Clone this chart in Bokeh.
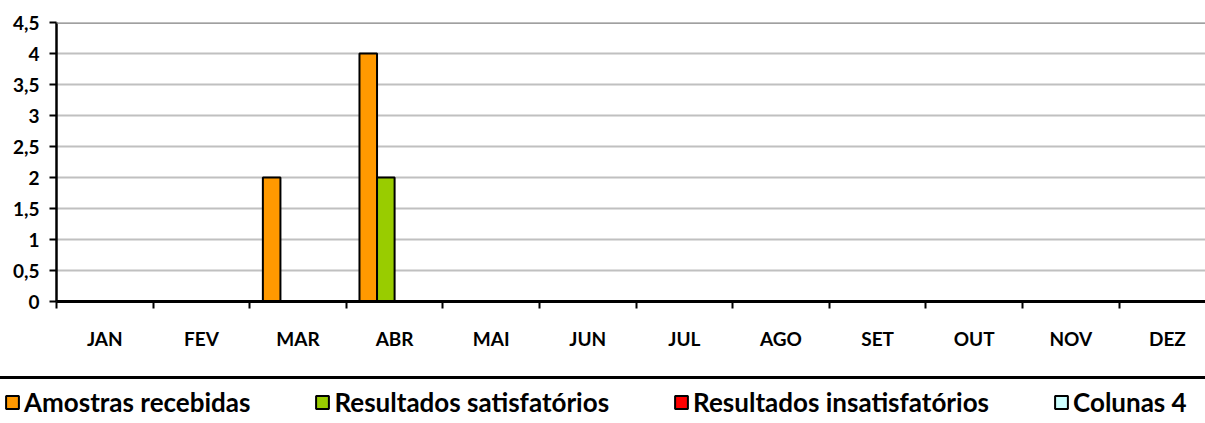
from bokeh.plotting import figure
from bokeh.models import (Range1d, LinearAxis, FixedTicker, Span, Legend, LegendItem,
                          ColumnDataSource, Grid, Div)
from bokeh.layouts import column, row
from bokeh.transform import dodge
from bokeh.core.properties import value
from bokeh.embed import file_html
from bokeh.resources import INLINE

# ---------------- data ----------------
months = ["JAN", "FEV", "MAR", "ABR", "MAI", "JUN", "JUL", "AGO", "SET", "OUT", "NOV", "DEZ"]
amostras_recebidas = [0, 0, 2, 4, 0, 0, 0, 0, 0, 0, 0, 0]
resultados_satisfatorios = [0, 0, 0, 2, 0, 0, 0, 0, 0, 0, 0, 0]
resultados_insatisfatorios = [0, 0, 0, 0, 0, 0, 0, 0, 0, 0, 0, 0]
colunas_4 = [0, 0, 0, 0, 0, 0, 0, 0, 0, 0, 0, 0]
series_names = ["Amostras recebidas", "Resultados satisfatórios",
                "Resultados insatisfatórios", "Colunas 4"]
y_ticks = [0, 0.5, 1, 1.5, 2, 2.5, 3, 3.5, 4, 4.5]
y_tick_labels = ["0", "0,5", "1", "1,5", "2", "2,5", "3", "3,5", "4", "4,5"]

# ---------------- style ----------------
colors = ["#FF9900", "#99CC00", "#FF0000", "#CCFFFF"]
FONT = "Lato"
W = 1205
H1 = 376
HLINE = 3
H2 = 44
LEFT = 56
TOP = 22
FRAME_H = 279
CAT_PX = 96.6
GAP = 1.5  # excel gap width 150%

source = ColumnDataSource(dict(
    x=[i + 0.5 for i in range(len(months))],
    s0=amostras_recebidas, s1=resultados_satisfatorios,
    s2=resultados_insatisfatorios, s3=colunas_4,
))

x_range = Range1d(0, (W - LEFT) / CAT_PX)
p = figure(width=W, height=H1, x_range=x_range, y_range=Range1d(0, 4.5),
           output_backend="svg", toolbar_location=None,
           x_axis_type=None, y_axis_type=None,
           min_border_left=LEFT, min_border_right=0, min_border_top=TOP,
           min_border_bottom=H1 - TOP - FRAME_H, outline_line_color=None)

ytick_src = FixedTicker(ticks=y_ticks)
p.add_layout(Grid(dimension=1, ticker=ytick_src, grid_line_color="#C0C0C0",
                  grid_line_width=2))
p.add_layout(Span(location=y_ticks[-1], dimension="width", line_color="#808080",
                  line_width=2.5))

bar_w = 1.0 / (len(series_names) + GAP)
for i in range(len(series_names)):
    off = (i - (len(series_names) - 1) / 2) * bar_w
    p.vbar(x=dodge("x", off), top="s%d" % i, width=bar_w, source=source,
           fill_color=colors[i], line_color="black", line_width=2)

yaxis = LinearAxis(ticker=ytick_src,
                   major_label_overrides={t: l for t, l in zip(y_ticks, y_tick_labels)},
                   axis_line_color="black", axis_line_width=2.5,
                   major_tick_line_color="black", major_tick_line_width=2,
                   major_tick_in=0, major_tick_out=7,
                   minor_tick_line_color=None,
                   major_label_standoff=10,
                   major_label_text_font=FONT, major_label_text_font_style="bold",
                   major_label_text_font_size="19px", major_label_text_color="black")
p.add_layout(yaxis, "left")

xaxis = LinearAxis(ticker=FixedTicker(ticks=[i + 0.5 for i in range(len(months))],
                                      minor_ticks=list(range(len(months) + 1))),
                   major_label_overrides={i + 0.5: m for i, m in enumerate(months)},
                   axis_line_color="black", axis_line_width=3,
                   major_tick_line_color=None, major_tick_in=0, major_tick_out=0,
                   minor_tick_line_color="black", minor_tick_line_width=2,
                   minor_tick_in=0, minor_tick_out=7,
                   major_label_standoff=18,
                   major_label_text_font=FONT, major_label_text_font_style="bold",
                   major_label_text_font_size="19px", major_label_text_color="black")
p.add_layout(xaxis, "below")

# ---------------- separator line ----------------
sep = Div(text="", width=W, height=HLINE, margin=0,
          styles={"background-color": "black"})

# ---------------- legend panel ----------------
p2 = figure(width=W, height=H2, x_range=Range1d(0, 1), y_range=Range1d(0, 1),
            output_backend="svg", toolbar_location=None,
            x_axis_type=None, y_axis_type=None, min_border=0,
            min_border_left=0, min_border_right=0, min_border_top=0, min_border_bottom=0,
            outline_line_color=None)
legend_src = ColumnDataSource(dict(x=[float("nan")], top=[float("nan")]))
leg_renderers = []
for i in range(len(series_names)):
    r = p2.vbar(x="x", top="top", width=bar_w, source=legend_src,
                fill_color=colors[i], line_color="black", line_width=2)
    leg_renderers.append(r)
legend = Legend(items=[LegendItem(label=value(n), renderers=[r])
                       for n, r in zip(series_names, leg_renderers)],
                orientation="horizontal", location=(4, 5),
                glyph_width=16, glyph_height=16, label_standoff=4, spacing=64,
                padding=0, margin=0, border_line_color=None,
                background_fill_alpha=0,
                label_text_font=FONT, label_text_font_style="bold",
                label_text_font_size="26px", label_text_color="black",
                label_height=30)
p2.add_layout(legend)

layout = column(p, sep, row(p2, spacing=0), spacing=0)
open("out.html", "w").write(file_html(layout, INLINE))
